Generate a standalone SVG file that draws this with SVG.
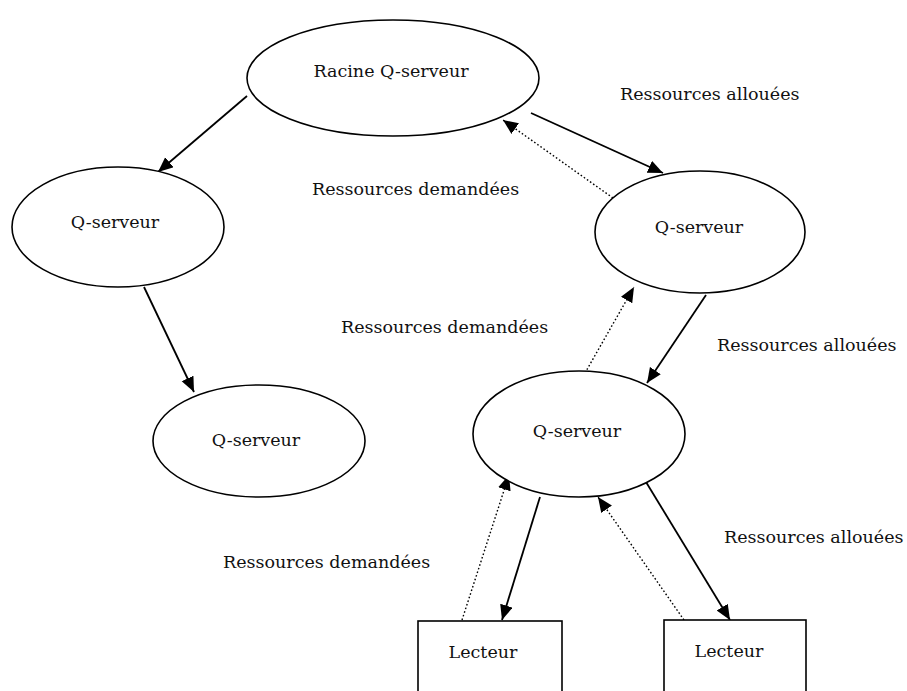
<svg xmlns="http://www.w3.org/2000/svg" width="907" height="691" viewBox="0 0 907 691">
<style>
.n{fill:#fff;stroke:#000;stroke-width:1.6}
.t{font-family:"DejaVu Serif","Liberation Serif",serif;font-size:17.5px;fill:#111}
.m{text-anchor:middle}
.s{stroke:#000;stroke-width:1.8;fill:none}
.d{stroke:#000;stroke-width:1.4;fill:none;stroke-dasharray:1.6 2.2}
</style>
<defs>
<marker id="ah" markerUnits="userSpaceOnUse" markerWidth="16" markerHeight="14" refX="15" refY="6.5" orient="auto"><path d="M0,0 L15,6.5 L0,13 z" fill="#000"/></marker>
</defs>
<rect width="907" height="691" fill="#fff"/>
<g id="connectors">
<line class="s" x1="247" y1="96" x2="158" y2="172" marker-end="url(#ah)"/>
<line class="s" x1="144" y1="287" x2="194" y2="392" marker-end="url(#ah)"/>
<line class="s" x1="531" y1="113" x2="663" y2="173" marker-end="url(#ah)"/>
<line class="d" x1="613" y1="198" x2="503" y2="120" marker-end="url(#ah)"/>
<line class="s" x1="706" y1="295" x2="647" y2="383" marker-end="url(#ah)"/>
<line class="d" x1="585" y1="373" x2="634" y2="287" marker-end="url(#ah)"/>
<line class="s" x1="540" y1="497" x2="502" y2="620" marker-end="url(#ah)"/>
<line class="d" x1="462" y1="620" x2="509" y2="475" marker-end="url(#ah)"/>
<line class="s" x1="646" y1="482" x2="730" y2="620" marker-end="url(#ah)"/>
<line class="d" x1="684" y1="620" x2="598" y2="497" marker-end="url(#ah)"/>
</g>
<g id="root">
<ellipse class="n" cx="393" cy="78" rx="146" ry="58" fill="none"/>
<text class="t m" x="391" y="77">Racine Q-serveur</text>
</g>
<g id="qleft">
<ellipse class="n" cx="118" cy="227" rx="106" ry="60"/>
<text class="t m" x="115" y="228">Q-serveur</text>
</g>
<g id="qleft2">
<ellipse class="n" cx="259" cy="441" rx="106" ry="56"/>
<text class="t m" x="256" y="446">Q-serveur</text>
</g>
<g id="qright1">
<ellipse class="n" cx="700" cy="232" rx="105" ry="61"/>
<text class="t m" x="699" y="233">Q-serveur</text>
</g>
<g id="qright2">
<ellipse class="n" cx="579" cy="434" rx="106" ry="63"/>
<text class="t m" x="577" y="437">Q-serveur</text>
</g>
<g id="lecteur1">
<rect class="n" x="418" y="621" width="144" height="80"/>
<text class="t m" x="483" y="658">Lecteur</text>
</g>
<g id="lecteur2">
<rect class="n" x="664" y="620" width="142" height="80"/>
<text class="t m" x="729" y="657">Lecteur</text>
</g>
<g id="labels">
<text class="t" x="620" y="100">Ressources allouées</text>
<text class="t" x="312" y="195">Ressources demandées</text>
<text class="t" x="341" y="333">Ressources demandées</text>
<text class="t" x="717" y="351">Ressources allouées</text>
<text class="t" x="724" y="543">Ressources allouées</text>
<text class="t" x="223" y="568">Ressources demandées</text>
</g>
</svg>
